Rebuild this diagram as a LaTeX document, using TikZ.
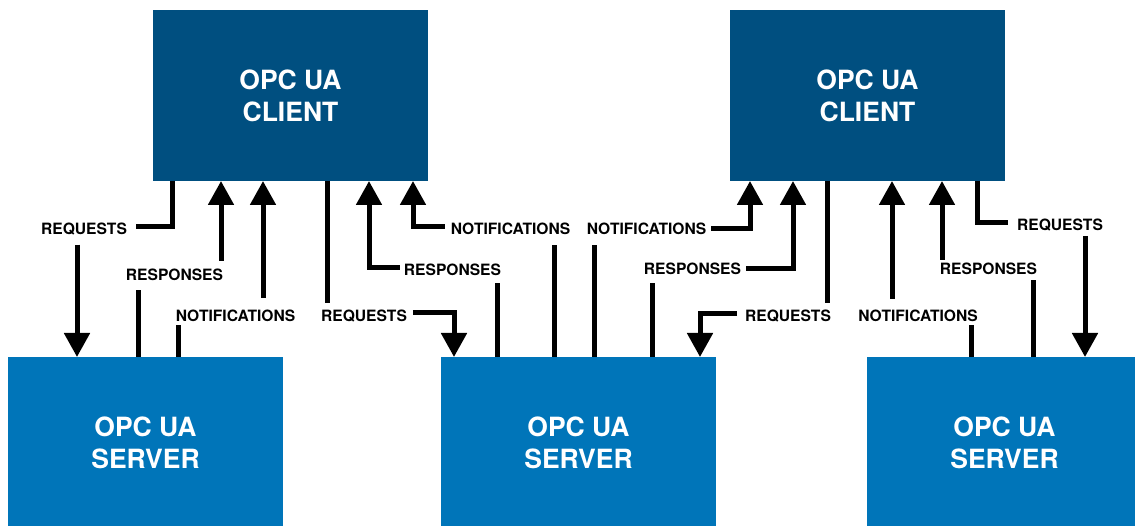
\documentclass[tikz,border=0pt]{standalone}
\usepackage{fontspec}
\setmainfont{TeX Gyre Heros}
\usetikzlibrary{arrows.meta}
\definecolor{clientblue}{RGB}{0,79,128}
\definecolor{serverblue}{RGB}{0,117,185}
\begin{document}
\begin{tikzpicture}[x=1pt,y=-1pt,
  client/.style={rectangle,fill=clientblue,minimum width=275pt,minimum height=171pt,inner sep=0pt,outer sep=0pt,
    text=white,align=center,font=\bfseries\fontsize{26.5}{32}\selectfont},
  server/.style={client,fill=serverblue},
  lab/.style={inner sep=0pt,outer sep=0pt,text height=11.2pt,text depth=0pt,font=\bfseries\fontsize{15.6}{18}\selectfont},
  conn/.style={line width=5pt,line cap=butt,draw=black},
  arr/.style={conn,-{Triangle[length=24pt,width=25pt]}}]
\useasboundingbox (0,0) rectangle (1135,526);
\clip (0,0) rectangle (1135,526);
% boxes
\node[client] (c1) at (290.5,95.5) {OPC UA\\CLIENT};
\node[client] (c2) at (867.5,95.5) {OPC UA\\CLIENT};
\node[server] (s1) at (145.5,442.5) {OPC UA\\SERVER};
\node[server] (s2) at (578.5,442.5) {OPC UA\\SERVER};
\node[server] (s3) at (1004.5,442.5) {OPC UA\\SERVER};
% labels
\node[lab] (l1) at (84,229) {REQUESTS};
\node[lab] (l2) at (174.5,275) {RESPONSES};
\node[lab] (l3) at (235.5,316) {NOTIFICATIONS};
\node[lab] (l4) at (364,316) {REQUESTS};
\node[lab] (l5) at (452.5,270) {RESPONSES};
\node[lab] (l6) at (510.5,229) {NOTIFICATIONS};
\node[lab] (l7) at (646.5,229) {NOTIFICATIONS};
\node[lab] (l8) at (692.5,269) {RESPONSES};
\node[lab] (l9) at (788,316) {REQUESTS};
\node[lab] (l10) at (918,316) {NOTIFICATIONS};
\node[lab] (l11) at (988.5,269) {RESPONSES};
\node[lab] (l12) at (1060,225) {REQUESTS};
% 1 C1 -> S1 requests
\draw[conn,shorten >=9pt] (c1.south -| 172,0) |- ([yshift=2pt]l1.east);
\draw[arr,shorten <=10pt] (l1.south -| 77,0) -- (s1.north -| 77,0);
% 2 S1 -> C1 responses
\draw[conn,shorten >=9.4pt] (s1.north -| 138,0) -- (l2.south -| 138,0);
\draw[arr,shorten <=8.4pt] (l2.north -| 221,0) -- (c1.south -| 221,0);
% 3 S1 -> C1 notifications
\draw[conn,shorten >=3.4pt] (s1.north -| 178,0) -- (l3.south -| 178,0);
\draw[arr,shorten <=12.6pt] (l3.north -| 263,0) -- (c1.south -| 263,0);
% 4 C1 -> S2 requests
\draw[conn,shorten >=7.4pt] (c1.south -| 327,0) -- (l4.north -| 327,0);
\draw[arr,shorten <=6pt] ([yshift=3.5pt]l4.east) -| (s2.north -| 454,0);
% 5 S2 -> C1 responses
\draw[conn,shorten >=7.4pt] (s2.north -| 497,0) -- (l5.south -| 497,0);
\draw[arr,shorten <=4pt] ([yshift=2pt]l5.west) -| (c1.south -| 369,0);
% 6 S2 -> C1 notifications
\draw[conn,shorten >=10.4pt] (s2.north -| 554,0) -- (l6.south -| 554,0);
\draw[arr,shorten <=6pt] ([yshift=2pt]l6.west) -| (c1.south -| 413,0);
% 7 S2 -> C2 notifications
\draw[conn,shorten >=10.4pt] (s2.north -| 594,0) -- (l7.south -| 594,0);
\draw[arr,shorten <=5pt] (l7.east) -| (c2.south -| 750,0);
% 8 S2 -> C2 responses
\draw[conn,shorten >=8.4pt] (s2.north -| 652,0) -- (l8.south -| 652,0);
\draw[arr,shorten <=5pt] (l8.east) -| (c2.south -| 793,0);
% 9 C2 -> S2 requests
\draw[conn,shorten >=7.4pt] (c2.south -| 827,0) -- (l9.north -| 827,0);
\draw[arr,shorten <=8pt] ([yshift=2pt]l9.west) -| (s2.north -| 700,0);
% 10 S3 -> C2 notifications
\draw[conn,shorten >=3.4pt] (s3.north -| 971,0) -- (l10.south -| 971,0);
\draw[arr,shorten <=11.4pt] (l10.north -| 892,0) -- (c2.south -| 892,0);
% 11 S3 -> C2 responses
\draw[conn,shorten >=5.4pt] (s3.north -| 1033,0) -- (l11.south -| 1033,0);
\draw[arr,shorten <=3.4pt] (l11.north -| 942,0) -- (c2.south -| 942,0);
% 12 C2 -> S3 requests
\draw[conn,shorten >=9pt] (c2.south -| 977,0) |- ([yshift=2pt]l12.west);
\draw[arr,shorten <=5.4pt] (l12.south -| 1085,0) -- (s3.north -| 1085,0);
\end{tikzpicture}
\end{document}
